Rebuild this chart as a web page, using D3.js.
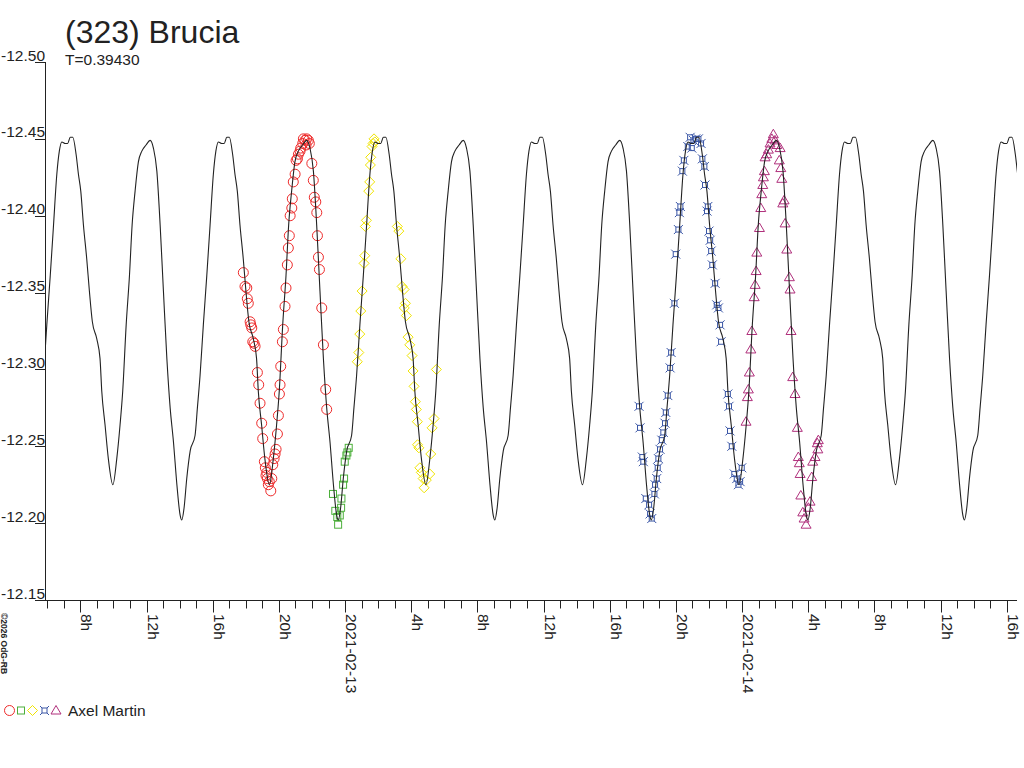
<!DOCTYPE html>
<html lang="en">
<head>
<meta charset="utf-8">
<script src="https://cdn.jsdelivr.net/npm/d3@7"></script>
<style>
body{margin:0;background:#fff;}
svg{display:block;font-family:"Liberation Sans",Arial,sans-serif;}
</style>
</head>
<body>
<div id="drawarea"></div>
<script>
const g_title="(323) Brucia"
const g_periodDays=0.39430
const g_observer="Axel Martin"
const g_base=Date.UTC(2021,1,13)   // all hours below counted from 2021-02-13 0h UT
const g_xStartH=-18.14
const g_xEndH=40.62
const yTicks=[-12.50,-12.45,-12.40,-12.35,-12.30,-12.25,-12.20,-12.15]

// fitted curve, one rotation, phase 0 = second bump of the double maximum
const epochH=-16.46
const curvePhase=[0,0.021,0.036,0.051,0.068,0.089,0.106,0.125,0.153,0.174,0.185,0.206,0.227,0.256,0.281,0.302,0.319,0.341,0.362,0.379,0.398,0.419,0.441,0.468,0.494,0.515,0.537,0.558,0.579,0.601,0.622,0.643,0.665,0.686,0.696,0.711,0.728,0.750,0.781,0.796,0.813,0.834,0.856,0.877,0.898,0.914,0.930,0.952,0.967,0.984]
const curveMag=[-12.451,-12.440,-12.427,-12.416,-12.394,-12.372,-12.351,-12.331,-12.320,-12.307,-12.286,-12.264,-12.242,-12.225,-12.242,-12.264,-12.286,-12.329,-12.361,-12.394,-12.416,-12.435,-12.442,-12.446,-12.449,-12.444,-12.429,-12.394,-12.351,-12.307,-12.275,-12.253,-12.225,-12.205,-12.202,-12.210,-12.229,-12.247,-12.257,-12.275,-12.296,-12.329,-12.361,-12.394,-12.427,-12.442,-12.448,-12.447,-12.447,-12.451]

// sessions [hours, mag]
const sessCircle=[[-6.15,-12.363],[-6.05,-12.354],[-5.94,-12.353],[-5.91,-12.346],[-5.85,-12.343],[-5.74,-12.331],[-5.70,-12.329],[-5.64,-12.327],[-5.58,-12.318],[-5.50,-12.317],[-5.44,-12.315],[-5.30,-12.298],[-5.22,-12.290],[-5.14,-12.278],[-5.04,-12.265],[-4.98,-12.255],[-4.88,-12.240],[-4.82,-12.236],[-4.78,-12.231],[-4.73,-12.233],[-4.70,-12.229],[-4.64,-12.225],[-4.58,-12.227],[-4.49,-12.221],[-4.43,-12.229],[-4.37,-12.238],[-4.29,-12.242],[-4.23,-12.245],[-4.17,-12.248],[-4.09,-12.258],[-4.03,-12.270],[-3.97,-12.284],[-3.93,-12.290],[-3.89,-12.302],[-3.79,-12.318],[-3.73,-12.326],[-3.63,-12.341],[-3.57,-12.353],[-3.49,-12.368],[-3.43,-12.379],[-3.37,-12.387],[-3.32,-12.400],[-3.22,-12.405],[-3.19,-12.411],[-3.13,-12.422],[-3.02,-12.427],[-2.96,-12.436],[-2.88,-12.437],[-2.82,-12.440],[-2.72,-12.442],[-2.68,-12.444],[-2.56,-12.447],[-2.52,-12.450],[-2.42,-12.449],[-2.36,-12.446],[-2.32,-12.450],[-2.22,-12.449],[-2.16,-12.447],[-2.01,-12.434],[-1.92,-12.423],[-1.86,-12.412],[-1.77,-12.409],[-1.71,-12.402],[-1.67,-12.387],[-1.61,-12.373],[-1.55,-12.365],[-1.41,-12.340],[-1.31,-12.316],[-1.17,-12.287],[-1.11,-12.274]]
const sessSquare=[[-0.73,-12.219],[-0.59,-12.208],[-0.47,-12.204],[-0.42,-12.199],[-0.32,-12.205],[-0.24,-12.210],[-0.22,-12.216],[-0.12,-12.225],[-0.06,-12.229],[-0.02,-12.240],[0.08,-12.244],[0.14,-12.246],[0.22,-12.249]]
const sessDiamond=[[0.74,-12.305],[0.83,-12.311],[0.89,-12.323],[0.95,-12.338],[1.03,-12.351],[1.15,-12.369],[1.19,-12.374],[1.23,-12.393],[1.29,-12.397],[1.43,-12.416],[1.49,-12.422],[1.53,-12.433],[1.55,-12.438],[1.63,-12.445],[1.69,-12.447],[1.75,-12.450],[1.80,-12.448],[3.16,-12.393],[3.25,-12.390],[3.37,-12.372],[3.45,-12.354],[3.57,-12.352],[3.58,-12.340],[3.65,-12.343],[3.71,-12.335],[3.81,-12.321],[3.91,-12.316],[4.05,-12.309],[4.11,-12.299],[4.17,-12.289],[4.25,-12.279],[4.31,-12.274],[4.37,-12.266],[4.38,-12.251],[4.46,-12.249],[4.52,-12.236],[4.61,-12.233],[4.72,-12.229],[4.78,-12.223],[4.91,-12.228],[5.12,-12.232],[5.18,-12.245],[5.26,-12.262],[5.38,-12.268],[5.52,-12.300]]
const sessStar=[[17.77,-12.276],[17.83,-12.262],[17.97,-12.243],[18.03,-12.240],[18.18,-12.216],[18.38,-12.212],[18.44,-12.206],[18.54,-12.203],[18.70,-12.219],[18.74,-12.225],[18.84,-12.229],[18.90,-12.236],[18.94,-12.242],[19.04,-12.248],[19.15,-12.254],[19.24,-12.259],[19.34,-12.265],[19.39,-12.272],[19.51,-12.283],[19.65,-12.301],[19.71,-12.311],[19.91,-12.343],[19.99,-12.375],[20.15,-12.391],[20.21,-12.402],[20.27,-12.406],[20.39,-12.429],[20.48,-12.436],[20.72,-12.445],[20.86,-12.451],[20.96,-12.444],[21.06,-12.449],[21.20,-12.450],[21.36,-12.450],[21.52,-12.447],[21.60,-12.437],[21.72,-12.432],[21.76,-12.420],[21.88,-12.403],[21.93,-12.406],[22.00,-12.390],[22.07,-12.384],[22.13,-12.377],[22.20,-12.368],[22.37,-12.356],[22.47,-12.342],[22.57,-12.340],[22.67,-12.329],[22.73,-12.318],[23.14,-12.284],[23.21,-12.276],[23.27,-12.260],[23.38,-12.250],[23.53,-12.232],[23.68,-12.229],[23.78,-12.225],[23.88,-12.227],[23.98,-12.236]]
const sessTriangle=[[24.24,-12.266],[24.32,-12.282],[24.38,-12.287],[24.44,-12.298],[24.53,-12.313],[24.59,-12.325],[24.73,-12.347],[24.79,-12.355],[24.85,-12.364],[24.89,-12.376],[25.05,-12.392],[25.13,-12.405],[25.19,-12.414],[25.25,-12.420],[25.29,-12.425],[25.35,-12.429],[25.39,-12.438],[25.49,-12.440],[25.59,-12.443],[25.69,-12.447],[25.80,-12.450],[25.89,-12.453],[25.99,-12.449],[26.10,-12.446],[26.25,-12.436],[26.30,-12.444],[26.34,-12.431],[26.40,-12.424],[26.46,-12.408],[26.54,-12.410],[26.60,-12.395],[26.70,-12.378],[26.86,-12.360],[26.90,-12.352],[26.96,-12.325],[27.06,-12.295],[27.20,-12.284],[27.34,-12.262],[27.40,-12.243],[27.46,-12.239],[27.51,-12.232],[27.55,-12.218],[27.67,-12.207],[27.75,-12.203],[27.87,-12.199],[28.01,-12.210],[28.11,-12.214],[28.21,-12.230],[28.27,-12.240],[28.41,-12.243],[28.55,-12.252],[28.58,-12.248],[28.61,-12.254]]

const hDate=h=>new Date(g_base+h*3600e3)

const W=1024,H=768
const x=d3.scaleUtc().domain([hDate(g_xStartH),hDate(g_xEndH)]).range([45,1017])
const y=d3.scaleLinear().domain([-12.50,-12.15]).range([62,600])

const svg=d3.select("#drawarea").append("svg").attr("width",W).attr("height",H)
svg.append("defs").append("clipPath").attr("id","plotclip").append("rect").attr("x",45).attr("y",0).attr("width",972).attr("height",H)

const ink="#222"

// symbols, all drawn around 0,0
const shapes={
 circle:g=>g.append("circle").attr("r",5),
 square:g=>g.append("rect").attr("x",-3.5).attr("y",-3.5).attr("width",7).attr("height",7),
 diamond:g=>g.append("path").attr("d","M0,-5L5,0L0,5L-5,0Z"),
 star:g=>{g.append("rect").attr("x",-2.5).attr("y",-2.5).attr("width",5).attr("height",5)
   g.append("path").attr("d","M-4.5,-4.5L-2.5,-2.5M4.5,-4.5L2.5,-2.5M-4.5,4.5L-2.5,2.5M4.5,4.5L2.5,2.5")},
 triangle:g=>g.append("path").attr("d","M0,-5L5,3.5L-5,3.5Z")
}
const sessions=[
 {data:sessCircle,shape:"circle",color:"#ee2a2a"},
 {data:sessSquare,shape:"square",color:"#4caf3a"},
 {data:sessDiamond,shape:"diamond",color:"#f0e400"},
 {data:sessStar,shape:"star",color:"#3a56a6"},
 {data:sessTriangle,shape:"triangle",color:"#b0307c"}
]

// title
svg.append("text").attr("x",65).attr("y",43).style("font-size","32px").style("fill",ink).text(g_title)
svg.append("text").attr("x",65).attr("y",65).style("font-size","15.5px").style("fill",ink).text("T="+g_periodDays.toFixed(5))

// y axis
const ya=svg.append("g").attr("id","yaxis")
ya.append("line").attr("x1",45.5).attr("x2",45.5).attr("y1",y(-12.50)).attr("y2",y(-12.15)+1).style("stroke",ink)
ya.selectAll("line.tk").data(yTicks).enter().append("line").attr("class","tk")
  .attr("x1",35).attr("x2",45).attr("y1",d=>Math.round(y(d))+0.5).attr("y2",d=>Math.round(y(d))+0.5).style("stroke",ink)
ya.selectAll("text").data(yTicks).enter().append("text")
  .attr("x",45).attr("y",d=>y(d)-1.5).attr("text-anchor","end").style("font-size","15.5px").style("fill",ink)
  .text(d=>d.toFixed(2))

// x axis
const xa=svg.append("g").attr("id","xaxis")
const ax0=Math.round(y(-12.15))+0.5
xa.append("line").attr("x1",45).attr("x2",1017).attr("y1",ax0).attr("y2",ax0).style("stroke",ink)
const hours=x.ticks(d3.utcHour.every(1))
xa.selectAll("line.tk").data(hours).enter().append("line").attr("class","tk")
  .attr("x1",d=>Math.round(x(d))+0.5).attr("x2",d=>Math.round(x(d))+0.5)
  .attr("y1",ax0).attr("y2",d=>d.getUTCHours()%4==0?ax0+12:ax0+8).style("stroke",ink)
const fmtDay=d3.utcFormat("%Y-%m-%d")
xa.selectAll("text").data(hours.filter(d=>d.getUTCHours()%4==0)).enter().append("text")
  .attr("transform",d=>"translate("+(Math.round(x(d))+1)+",614) rotate(90)")
  .style("font-size","15.5px").style("fill",ink)
  .text(d=>d.getUTCHours()==0?fmtDay(d):d.getUTCHours()+"h")

// copyright
svg.append("text").attr("transform","translate(1,613) rotate(90)").style("font-size","8.5px").style("font-weight","bold").style("fill",ink).text("\u00a92026 OdG-RB")

// observations
const obs=svg.append("g").attr("id","obs").style("fill","none").style("stroke-width",1)
sessions.forEach(s=>{
  let gg=obs.append("g").style("stroke",s.color)
  gg.selectAll("g").data(s.data).enter().append("g")
    .attr("transform",d=>"translate("+x(hDate(d[0]))+","+y(d[1])+")")
    .each(function(){shapes[s.shape](d3.select(this))})
})

// fitted curve, repeated every rotation
let curvePts=[]
for(let k=-1;k<8;k++){
  curvePhase.forEach((p,i)=>{curvePts.push([epochH+(k+p)*g_periodDays*24,curveMag[i]])})
}
curvePts=curvePts.filter(d=>d[0]>g_xStartH-6&&d[0]<g_xEndH+6)
const l=d3.line().x(d=>x(hDate(d[0]))).y(d=>y(d[1])).curve(d3.curveMonotoneX)
svg.append("path").attr("clip-path","url(#plotclip)").attr("d",l(curvePts))
  .style("fill","none").style("stroke",ink).style("stroke-width",1.1)

// legend
const lg=svg.append("g").attr("id","legend").style("fill","none")
const lgX=[9.5,21,32.5,44.5,56]
sessions.forEach((s,i)=>{
  let gg=lg.append("g").attr("transform","translate("+lgX[i]+",710.5)").style("stroke",s.color)
  shapes[s.shape](gg)
})
svg.append("text").attr("x",68).attr("y",716).style("font-size","15.5px").style("fill",ink).text(g_observer)
</script>
</body>
</html>
